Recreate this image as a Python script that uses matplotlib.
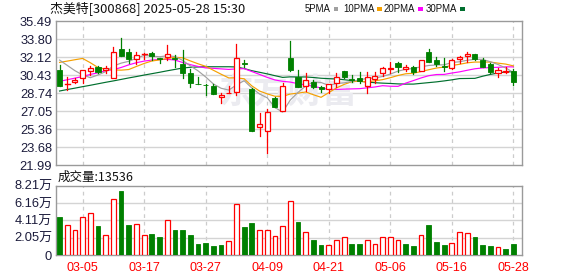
import matplotlib
matplotlib.use('Agg')
import matplotlib.pyplot as plt
from matplotlib.patches import Rectangle

plt.rcParams['font.family'] = ['Liberation Sans', 'Noto Sans CJK SC', 'DejaVu Sans']

# ---------------- data ----------------
dates = ['02-28', '03-03', '03-04', '03-05', '03-06', '03-07', '03-10', '03-11', '03-12', '03-13',
         '03-14', '03-17', '03-18', '03-19', '03-20', '03-21', '03-24', '03-25', '03-26', '03-27',
         '03-28', '03-31', '04-01', '04-02', '04-03', '04-07', '04-08', '04-09', '04-10', '04-11',
         '04-14', '04-15', '04-16', '04-17', '04-18', '04-21', '04-22', '04-23', '04-24', '04-25',
         '04-28', '04-29', '04-30', '05-06', '05-07', '05-08', '05-09', '05-12', '05-13', '05-14',
         '05-15', '05-16', '05-19', '05-20', '05-21', '05-22', '05-23', '05-26', '05-27', '05-28']

opens = [30.91, 29.55, 29.80, 30.13, 30.82, 31.16, 30.91, 30.19, 32.86, 32.57,
         31.92, 32.39, 32.48, 32.01, 32.10, 32.00, 31.45, 30.60, 29.62, 29.52,
         29.41, 28.40, 28.75, 28.81, 31.55, 29.13, 25.52, 25.21, 28.25, 27.09,
         32.01, 30.22, 29.41, 29.78, 29.28, 29.10, 29.66, 30.82, 30.10, 30.13,
         29.41, 30.07, 30.66, 31.05, 31.54, 30.97, 31.23, 30.82, 32.64, 31.85,
         31.29, 31.07, 31.98, 32.23, 32.42, 31.85, 31.48, 30.66, 30.75, 30.82]
highs = [31.40, 30.28, 30.13, 30.91, 31.29, 31.29, 31.29, 33.08, 33.92, 32.86,
         32.57, 32.54, 32.60, 32.07, 33.30, 32.35, 32.80, 30.97, 30.29, 29.60,
         29.60, 28.72, 29.44, 33.36, 31.85, 29.20, 26.84, 27.25, 28.40, 29.66,
         33.60, 30.91, 30.60, 29.97, 29.41, 29.60, 30.60, 30.82, 30.40, 30.75,
         30.75, 30.75, 31.23, 31.70, 31.70, 31.38, 31.29, 31.85, 32.86, 32.17,
         32.01, 31.92, 32.23, 32.64, 32.42, 32.01, 31.54, 31.07, 31.16, 30.97]
lows = [29.40, 29.03, 29.70, 29.70, 30.44, 30.66, 30.60, 30.19, 32.26, 31.54,
        31.45, 31.92, 31.85, 31.54, 31.85, 31.16, 30.13, 29.35, 29.58, 28.56,
        28.66, 27.84, 28.72, 28.56, 31.20, 25.21, 24.70, 23.14, 27.40, 27.09,
        30.82, 29.35, 28.90, 29.19, 28.88, 28.72, 29.35, 30.16, 29.80, 29.66,
        28.72, 29.72, 30.35, 30.66, 30.75, 30.82, 30.54, 30.82, 31.70, 31.29,
        30.82, 30.97, 31.54, 31.70, 31.85, 31.16, 30.66, 30.28, 30.60, 29.50]
closes = [29.44, 29.58, 29.95, 30.91, 31.07, 30.76, 31.13, 32.57, 32.26, 31.92,
          32.29, 32.39, 32.26, 31.92, 32.39, 31.95, 30.60, 29.66, 29.60, 29.50,
          28.66, 28.60, 28.80, 32.01, 31.50, 25.21, 25.80, 26.96, 27.46, 29.38,
          30.91, 29.35, 29.94, 29.35, 29.13, 29.57, 30.22, 30.28, 30.02, 29.85,
          30.28, 30.35, 31.07, 31.10, 31.23, 31.16, 30.75, 31.85, 31.70, 31.48,
          31.23, 31.85, 32.17, 32.42, 31.95, 31.16, 30.75, 30.88, 30.80, 29.82]
prev_close = 30.30  # close of the day before the first candle

volumes = [4.50, 3.51, 2.92, 4.46, 4.97, 3.43, 2.33, 6.59, 7.58, 3.55,
           3.67, 2.33, 2.49, 2.13, 4.10, 2.96, 2.96, 2.37, 1.30, 1.42,
           1.07, 1.18, 1.66, 6.04, 3.32, 3.79, 2.92, 2.92, 2.21, 3.39,
           6.35, 3.91, 2.72, 1.78, 1.18, 1.14, 1.78, 2.09, 1.30, 1.30,
           1.78, 1.30, 2.09, 2.09, 1.78, 1.30, 1.07, 2.37, 3.55, 1.58,
           1.18, 1.42, 2.72, 2.61, 2.13, 1.18, 1.07, 0.95, 0.71, 1.3536]  # 万

ma5 = [31.85, 31.35, 30.85, 30.45, 30.19, 30.45, 30.76, 31.29, 31.56, 31.73,
       32.03, 32.29, 32.22, 32.16, 32.25, 32.18, 31.82, 31.30, 30.84, 30.26,
       29.60, 29.20, 29.03, 29.51, 29.91, 29.22, 28.66, 28.30, 27.39, 26.96,
       28.10, 28.81, 29.41, 29.79, 29.74, 29.47, 29.64, 29.71, 29.84, 29.99,
       30.13, 30.16, 30.31, 30.53, 30.81, 30.98, 31.06, 31.22, 31.34, 31.39,
       31.40, 31.62, 31.69, 31.83, 31.92, 31.91, 31.69, 31.43, 31.11, 30.68]
ma10 = [31.63, 31.75, 31.88, 32.00, 31.60, 31.15, 31.00, 30.92, 30.90, 30.96,
        31.25, 31.53, 31.76, 31.86, 31.99, 32.11, 32.06, 31.77, 31.50, 31.26,
        30.89, 30.52, 30.17, 30.18, 30.09, 29.42, 28.94, 28.67, 28.45, 28.44,
        28.66, 28.74, 28.85, 28.59, 28.35, 28.79, 29.23, 29.56, 29.82, 29.86,
        29.80, 29.90, 30.01, 30.19, 30.40, 30.56, 30.61, 30.77, 30.94, 31.10,
        31.19, 31.34, 31.45, 31.59, 31.66, 31.66, 31.66, 31.56, 31.47, 31.30]
ma20 = [29.85, 30.00, 30.15, 30.30, 30.50, 30.65, 30.85, 30.95, 31.15, 31.40,
        31.60, 31.75, 31.85, 31.90, 31.92, 31.85, 31.62, 31.42, 31.25, 31.11,
        31.07, 31.02, 30.97, 31.02, 31.04, 30.77, 30.50, 30.22, 29.98, 29.85,
        29.78, 29.63, 29.51, 29.39, 29.22, 29.10, 29.09, 29.12, 29.14, 29.16,
        29.24, 29.32, 29.44, 29.39, 29.38, 29.68, 29.92, 30.17, 30.38, 30.49,
        30.50, 30.63, 30.74, 30.89, 31.03, 31.11, 31.14, 31.17, 31.21, 31.21]
ma30 = [28.94, 29.08, 29.21, 29.35, 29.48, 29.62, 29.76, 29.89, 30.03, 30.17,
        30.30, 30.44, 30.57, 30.70, 30.84, 30.97, 31.10, 31.17, 31.20, 31.22,
        31.22, 31.22, 31.22, 31.20, 31.05, 30.85, 30.70, 30.55, 30.38, 30.22,
        30.27, 30.26, 30.26, 30.21, 30.14, 30.10, 30.07, 30.00, 29.92, 29.85,
        29.79, 29.72, 29.68, 29.65, 29.61, 29.59, 29.59, 29.66, 29.73, 29.80,
        29.89, 29.99, 30.11, 30.12, 30.13, 30.33, 30.50, 30.63, 30.74, 30.75]

price_ticks = [21.99, 23.68, 25.36, 27.05, 28.74, 30.43, 32.12, 33.80, 35.49]
vol_ticks = [0, 2.05, 4.11, 6.16, 8.21]
vol_tick_labels = ['0', '2.05万', '4.11万', '6.16万', '8.21万']
date_labels = ['03-05', '03-17', '03-27', '04-09', '04-21', '05-06', '05-16', '05-28']

title_text = '杰美特[300868] 2025-05-28 15:30'
ma_names = ['5PMA', '10PMA', '20PMA', '30PMA']
vol_title = '成交量:13536'
watermark = '东方财富'

# ---------------- style ----------------
RED = '#ff0000'
GREEN = '#008000'
MA_COLORS = ['#a0a0a0', '#f5a000', '#ff00ff', '#006f2e']
GRID = '#d4d4d4'
SPINE = '#9a9a9a'
LABEL = '#1c1c3c'

W, H = 578, 276
fig = plt.figure(figsize=(W / 100, H / 100), dpi=100)


def fx(x):
    return x / W


def fy(y):
    return 1 - y / H


L, R = 55.7, 522.0
ax = fig.add_axes([fx(L), fy(165), fx(R) - fx(L), fy(21.3) - fy(165)])
axv = fig.add_axes([fx(L), fy(255), fx(R) - fx(L), fy(185.7) - fy(255)])

n = len(closes)
xs = list(range(n))
grid_pos = [dates.index(d) for d in date_labels]

for a in (ax, axv):
    a.set_xlim(-0.5, 60.12)
    for s in a.spines.values():
        s.set_color(SPINE)
        s.set_linewidth(1.0)
    for gp in grid_pos:
        a.axvline(gp, color='#cccccc', lw=0.9, ls=(0, (3, 3)), zorder=0)
    a.tick_params(length=0)

# price axes
ax.set_ylim(price_ticks[0], price_ticks[-1])
ax.set_yticks(price_ticks)
ax.set_yticklabels(['%.2f' % t for t in price_ticks], fontsize=9.3, color=LABEL)
ax.tick_params(axis='y', pad=2.5)
ax.set_xticks([])
for t in price_ticks[1:-1]:
    ax.axhline(t, color=GRID, lw=1.0, zorder=0)

ax.text(0.5, 0.51, watermark, transform=ax.transAxes, fontsize=25, fontweight='bold',
        fontstyle='italic', color='#ebebf0', ha='center', va='center', zorder=0.5,
        family=['Noto Sans CJK SC'])

bw = 0.66
for i in xs:
    o, h, l, c = opens[i], highs[i], lows[i], closes[i]
    if c >= o:
        col = RED
        top, bot = c, o
        if top - bot < 0.03:
            ax.plot([i - bw / 2, i + bw / 2], [c, c], color=col, lw=1.0, zorder=3)
            ax.plot([i, i], [l, h], color=col, lw=0.9, zorder=3)
        else:
            ax.add_patch(Rectangle((i - bw / 2, bot), bw, top - bot, facecolor='white',
                                   edgecolor=col, lw=0.9, zorder=3))
            ax.plot([i, i], [top, h], color=col, lw=0.9, zorder=3)
            ax.plot([i, i], [l, bot], color=col, lw=0.9, zorder=3)
    else:
        col = GREEN
        ax.plot([i, i], [l, h], color=col, lw=0.9, zorder=3)
        hh = max(o - c, 0.03)
        ax.add_patch(Rectangle((i - bw / 2, c), bw, hh, facecolor=col,
                               edgecolor=col, lw=0.6, zorder=3))

for vals, col in zip([ma30, ma20, ma10, ma5], MA_COLORS[::-1]):
    ax.plot(xs, vals, color=col, lw=0.85, zorder=2)

# volume axes
axv.set_ylim(0, vol_ticks[-1])
axv.set_yticks(vol_ticks)
axv.set_yticklabels(vol_tick_labels, fontsize=9.3, color=LABEL)
axv.tick_params(axis='y', pad=2.5)
for t in vol_ticks[1:-1]:
    axv.axhline(t, color=GRID, lw=1.0, zorder=0)
axv.set_xticks(grid_pos)
axv.set_xticklabels(date_labels, fontsize=9, color=RED)
axv.tick_params(axis='x', pad=5)

vw = 0.62
for i in xs:
    pc = prev_close if i == 0 else closes[i - 1]
    if closes[i] >= pc:
        axv.add_patch(Rectangle((i - vw / 2, 0), vw, volumes[i], facecolor='white',
                                edgecolor=RED, lw=0.9, zorder=3))
    else:
        axv.add_patch(Rectangle((i - vw / 2, 0), vw, volumes[i], facecolor=GREEN,
                                edgecolor=GREEN, lw=0.6, zorder=3))

# header texts
fig.text(fx(50), fy(8.5), title_text, fontsize=9.3, color='#111111', ha='left', va='center',
         family=['Noto Sans CJK SC', 'DejaVu Sans'])

renderer = fig.canvas.get_renderer()
leg_x = [305, 343, 384, 426]
for name, col, x0 in zip(ma_names, MA_COLORS, leg_x):
    t = fig.text(fx(x0), fy(8.5), name, fontsize=6.9, color='#111111', ha='left', va='center')
    x_end = t.get_window_extent(renderer=renderer).x1
    fig.add_artist(Rectangle(((x_end + 3) / W, fy(10.5)), 4.5 / W, 3.5 / H, facecolor=col,
                             edgecolor='none', transform=fig.transFigure))

fig.text(fx(58), fy(177.5), vol_title, fontsize=9, color='#111111', ha='left', va='center',
         family=['Noto Sans CJK SC', 'DejaVu Sans'])

fig.savefig('out.png', dpi=100)
